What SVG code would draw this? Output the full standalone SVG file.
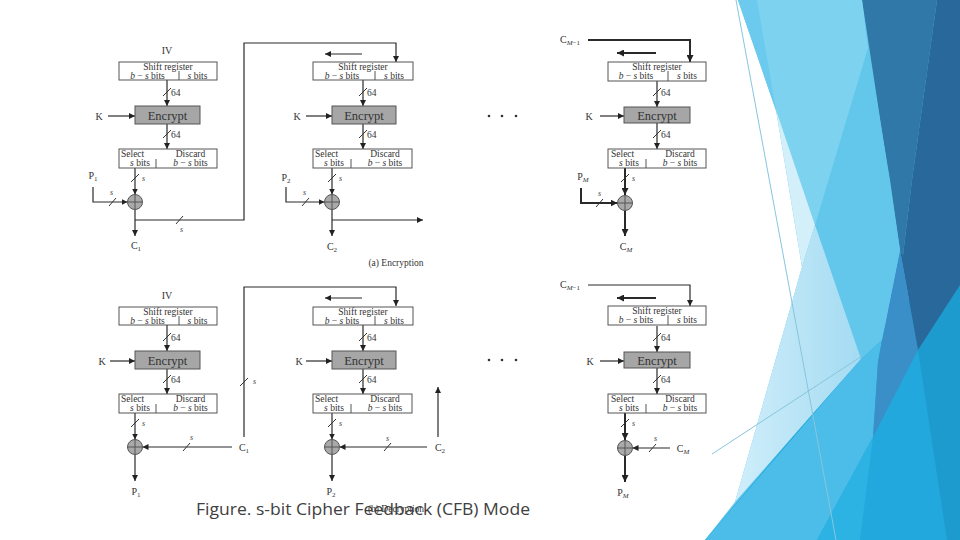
<svg xmlns="http://www.w3.org/2000/svg" width="960" height="540" viewBox="0 0 960 540">
<defs>
<marker id="ah" viewBox="0 0 10 10" refX="10" refY="5" markerWidth="6" markerHeight="6" orient="auto" markerUnits="userSpaceOnUse"><path d="M0,0 L10,5 L0,10 z" fill="#222"/></marker>
<marker id="ahb" viewBox="0 0 10 10" refX="10" refY="5" markerWidth="7" markerHeight="7" orient="auto" markerUnits="userSpaceOnUse"><path d="M0,0 L10,5 L0,10 z" fill="#222"/></marker>
<linearGradient id="midg" x1="0" y1="0" x2="1" y2="0"><stop offset="0" stop-color="#d0eefa"/><stop offset="1" stop-color="#a4dbf2"/></linearGradient>
<style>
.t{font-family:"Liberation Serif",serif;fill:#333;font-size:9.5px}
.tc{text-anchor:middle}
.enc{font-family:"Liberation Serif",serif;fill:#333;font-size:12.5px;text-anchor:middle}
.lab{font-family:"Liberation Serif",serif;fill:#333;font-size:10px;text-anchor:middle}
.sm{font-family:"Liberation Serif",serif;fill:#444;font-size:8px;font-style:italic}
.box{fill:#fff;stroke:#555;stroke-width:1}
.ebox{fill:#a6a6a6;stroke:#555;stroke-width:1}
.xor{fill:#a9a9a9;stroke:#555;stroke-width:1}
.ln{fill:none;stroke:#2a2a2a;stroke-width:1.2}
.lb{fill:none;stroke:#2a2a2a;stroke-width:2}
.ar{marker-end:url(#ah)}
.arb{marker-end:url(#ahb)}
.sl{stroke:#333;stroke-width:1}
.dv{stroke:#555;stroke-width:1}
</style>
</defs>
<rect width="960" height="540" fill="#fff"/>

<!-- decoration -->
<g id="decoration">
<polygon points="738,0 960,0 960,540 705,540 735,502 802,267 776,110" fill="#63c7eb"/>
<polygon points="705,540 887,325 918,290 960,250 960,540" fill="#22a8dc"/>
<polygon points="705,540 861,359 882,340 878,362 873,437 817,540" fill="#4bbde8"/>
<polygon points="873,437 817,540 860,540" fill="#2db3e3"/>
<polygon points="918,350 960,285 960,540 947,540" fill="#1d9ace"/>
<polygon points="900,250 918,350 873,437 878,362 882,340" fill="#3a8fc8"/>
<polygon points="862,0 937,0 912,180 903,255 900,250" fill="#2f78a8"/>
<polygon points="937,0 960,0 960,285 918,350 900,250 903,255 912,180" fill="#29689b"/>
<polygon points="868,48 890,180 900,250 882,340 861,359 815,225" fill="#63c7eb"/>
<polygon points="738,0 862,0 868,48 815,225" fill="#7dd2f0"/>
<polygon points="738,0 757,0 776,110" fill="#6ccaee"/>
<polygon points="776,110 815,225 802,267" fill="#d2effa"/>
<polygon points="815,225 861,359 735,502 802,267" fill="url(#midg)"/>
<line x1="736" y1="0" x2="836" y2="540" stroke="#86c6dd" stroke-width="1"/>
<line x1="712" y1="454" x2="862" y2="356" stroke="#86c6dd" stroke-width="1"/>
</g>

<!-- connectors -->
<g id="connectors">
<line class="ln ar" x1="167" y1="80" x2="167" y2="106"/>
<line class="ln ar" x1="167" y1="124" x2="167" y2="149"/>
<line class="ln ar" x1="108" y1="116" x2="135" y2="116"/>
<line class="ln ar" x1="135" y1="168" x2="135" y2="194.5"/>
<path class="ln ar" d="M93,187 V202 H127.5"/>
<line class="ln ar" x1="135" y1="209.5" x2="135" y2="236"/>
<path class="ln ar" d="M135,220 H244 V43 H396 V62"/>
<line class="ln ar" x1="362" y1="54" x2="325" y2="54"/>
<line class="ln ar" x1="363" y1="80" x2="363" y2="106"/>
<line class="ln ar" x1="363" y1="124" x2="363" y2="149"/>
<line class="ln ar" x1="306" y1="116" x2="332" y2="116"/>
<line class="ln ar" x1="332" y1="168" x2="332" y2="194.5"/>
<path class="ln ar" d="M286,187 V202 H324.5"/>
<line class="ln ar" x1="332" y1="209.5" x2="332" y2="236"/>
<path class="ln ar" d="M332,220 H423"/>
<path class="lb arb" d="M588,40 H690 V62"/>
<line class="lb arb" x1="656" y1="53" x2="617" y2="53"/>
<line class="ln ar" x1="657" y1="81" x2="657" y2="107"/>
<line class="ln ar" x1="657" y1="123" x2="657" y2="149"/>
<line class="ln ar" x1="600" y1="116" x2="624" y2="116"/>
<line class="lb arb" x1="625" y1="168" x2="625" y2="195"/>
<path class="lb arb" d="M581,188 V203 H617.5"/>
<line class="lb arb" x1="625" y1="210.5" x2="625" y2="236"/>

<line class="ln ar" x1="167" y1="325" x2="167" y2="351"/>
<line class="ln ar" x1="167" y1="369" x2="167" y2="394"/>
<line class="ln ar" x1="110" y1="361" x2="135" y2="361"/>
<line class="ln ar" x1="135" y1="413" x2="135" y2="439.5"/>
<path class="ln ar" d="M232,447 H142.5"/>
<line class="ln ar" x1="135" y1="454.5" x2="135" y2="481"/>
<path class="ln ar" d="M244,437 V287 H396 V306"/>
<line class="ln ar" x1="362" y1="298" x2="325" y2="298"/>
<line class="ln ar" x1="363" y1="325" x2="363" y2="351"/>
<line class="ln ar" x1="363" y1="369" x2="363" y2="394"/>
<line class="ln ar" x1="306" y1="361" x2="332" y2="361"/>
<line class="ln ar" x1="332" y1="413" x2="332" y2="439.5"/>
<path class="ln ar" d="M427,447 H339.5"/>
<path class="ln ar" d="M438,437 V387"/>
<line class="ln ar" x1="332" y1="454.5" x2="332" y2="481"/>
<path class="ln ar" d="M588,285 H690 V306"/>
<line class="lb arb" x1="656" y1="298" x2="617" y2="298"/>
<line class="ln ar" x1="657" y1="326" x2="657" y2="352"/>
<line class="ln ar" x1="657" y1="368" x2="657" y2="394"/>
<line class="ln ar" x1="600" y1="361" x2="624" y2="361"/>
<line class="lb arb" x1="625" y1="413" x2="625" y2="440"/>
<path class="ln ar" d="M670,448 H632.5"/>
<line class="lb arb" x1="625" y1="455.5" x2="625" y2="482"/>

<path class="sl" d="M163,96 L171,88 M163,138 L171,130 M131,182 L139,174 M109,206 L116,198 M176,224 L183,216
M359,96 L367,88 M359,138 L367,130 M328,182 L336,174 M302,206 L309,198
M653,96 L661,88 M653,138 L661,130 M621,182 L629,174 M596,207 L603,199
M163,341 L171,333 M163,383 L171,375 M131,427 L139,419 M183,451 L190,443 M240,386 L248,378
M359,341 L367,333 M359,383 L367,375 M328,427 L336,419 M384,451 L391,443
M653,341 L661,333 M653,383 L661,375 M621,427 L629,419 M649,452 L656,444"/>
</g>

<g id="bus-labels">
<text class="t" x="171" y="95.5">64</text><text class="t" x="171" y="137.5">64</text>
<text class="sm" x="142" y="181">s</text><text class="sm" x="110" y="195">s</text><text class="sm" x="180" y="232">s</text>
<text class="t" x="367" y="95.5">64</text><text class="t" x="367" y="137.5">64</text>
<text class="sm" x="339" y="181">s</text><text class="sm" x="303" y="195">s</text>
<text class="t" x="661" y="95.5">64</text><text class="t" x="661" y="137.5">64</text>
<text class="sm" x="632" y="181">s</text><text class="sm" x="598" y="196">s</text>
<text class="t" x="171" y="340.5">64</text><text class="t" x="171" y="382.5">64</text>
<text class="sm" x="142" y="426">s</text><text class="sm" x="190" y="440">s</text><text class="sm" x="253" y="384">s</text>
<text class="t" x="367" y="340.5">64</text><text class="t" x="367" y="382.5">64</text>
<text class="sm" x="339" y="426">s</text><text class="sm" x="386" y="441">s</text>
<text class="t" x="661" y="340.5">64</text><text class="t" x="661" y="382.5">64</text>
<text class="sm" x="632" y="426">s</text><text class="sm" x="654" y="441">s</text>
</g>

<g id="enc-iv"><text class="lab" x="167" y="53.5">IV</text></g>
<g id="enc1-shift"><rect class="box" x="119" y="62" width="98" height="18"/><line class="dv" x1="179" y1="71" x2="179" y2="80"/>
<text class="t tc" x="168" y="70">Shift register</text><text class="t tc" x="147.5" y="78.5"><tspan font-style="italic">b</tspan> − <tspan font-style="italic">s</tspan> bits</text><text class="t tc" x="197.5" y="78.5"><tspan font-style="italic">s</tspan> bits</text></g>
<g id="enc1-encrypt"><rect class="ebox" x="135" y="106" width="65" height="18"/><text class="enc" x="167.5" y="119.5">Encrypt</text></g>
<g id="enc1-k"><text class="lab" x="99" y="119.5">K</text></g>
<g id="enc1-select"><rect class="box" x="119" y="149" width="98" height="19"/><line class="dv" x1="156" y1="159" x2="156" y2="168"/>
<text class="t" x="121" y="157">Select</text><text class="t tc" x="140" y="166"><tspan font-style="italic">s</tspan> bits</text><text class="t tc" x="190.5" y="157">Discard</text><text class="t tc" x="190.5" y="166"><tspan font-style="italic">b</tspan> − <tspan font-style="italic">s</tspan> bits</text></g>
<g id="enc1-xor"><circle class="xor" cx="135" cy="202" r="7.5"/><path class="dv" d="M127.5,202 H142.5 M135,194.5 V209.5"/></g>
<g id="enc1-p"><text class="lab" x="93" y="179">P<tspan font-size="7" dy="2">1</tspan></text></g>
<g id="enc1-c"><text class="lab" x="136" y="249">C<tspan font-size="7" dy="2">1</tspan></text></g>

<g id="enc2-shift"><rect class="box" x="313" y="62" width="100" height="18"/><line class="dv" x1="375" y1="71" x2="375" y2="80"/>
<text class="t tc" x="363" y="70">Shift register</text><text class="t tc" x="342" y="78.5"><tspan font-style="italic">b</tspan> − <tspan font-style="italic">s</tspan> bits</text><text class="t tc" x="394" y="78.5"><tspan font-style="italic">s</tspan> bits</text></g>
<g id="enc2-encrypt"><rect class="ebox" x="332" y="106" width="64" height="18"/><text class="enc" x="364" y="119.5">Encrypt</text></g>
<g id="enc2-k"><text class="lab" x="297" y="119.5">K</text></g>
<g id="enc2-select"><rect class="box" x="313" y="149" width="99" height="19"/><line class="dv" x1="351" y1="159" x2="351" y2="168"/>
<text class="t" x="315" y="157">Select</text><text class="t tc" x="334" y="166"><tspan font-style="italic">s</tspan> bits</text><text class="t tc" x="385" y="157">Discard</text><text class="t tc" x="385" y="166"><tspan font-style="italic">b</tspan> − <tspan font-style="italic">s</tspan> bits</text></g>
<g id="enc2-xor"><circle class="xor" cx="332" cy="202" r="7.5"/><path class="dv" d="M324.5,202 H339.5 M332,194.5 V209.5"/></g>
<g id="enc2-p"><text class="lab" x="286" y="181">P<tspan font-size="7" dy="2">2</tspan></text></g>
<g id="enc2-c"><text class="lab" x="332" y="250">C<tspan font-size="7" dy="2">2</tspan></text></g>
<g id="enc-caption"><text class="t tc" x="396" y="266" font-size="9">(a) Encryption</text></g>

<g id="enc-dots"><circle cx="489" cy="116" r="1.3" fill="#333"/><circle cx="502" cy="116" r="1.3" fill="#333"/><circle cx="516" cy="116" r="1.3" fill="#333"/></g>

<g id="enc3-cin"><text class="lab" x="570" y="43">C<tspan font-size="7" dy="2"><tspan font-style="italic">M</tspan>−1</tspan></text></g>
<g id="enc3-shift"><rect class="box" x="608" y="62" width="98" height="19"/><line class="dv" x1="668" y1="71" x2="668" y2="81"/>
<text class="t tc" x="657" y="70">Shift register</text><text class="t tc" x="636" y="78.5"><tspan font-style="italic">b</tspan> − <tspan font-style="italic">s</tspan> bits</text><text class="t tc" x="687" y="78.5"><tspan font-style="italic">s</tspan> bits</text></g>
<g id="enc3-encrypt"><rect class="ebox" x="624" y="107" width="66" height="16"/><text class="enc" x="657" y="119.5">Encrypt</text></g>
<g id="enc3-k"><text class="lab" x="589" y="119.5">K</text></g>
<g id="enc3-select"><rect class="box" x="608" y="149" width="98" height="19"/><line class="dv" x1="646" y1="159" x2="646" y2="168"/>
<text class="t" x="611" y="157">Select</text><text class="t tc" x="629" y="166"><tspan font-style="italic">s</tspan> bits</text><text class="t tc" x="680" y="157">Discard</text><text class="t tc" x="680" y="166"><tspan font-style="italic">b</tspan> − <tspan font-style="italic">s</tspan> bits</text></g>
<g id="enc3-xor"><circle class="xor" cx="625" cy="203" r="7.5"/><path class="dv" d="M617.5,203 H632.5 M625,195.5 V210.5"/></g>
<g id="enc3-p"><text class="lab" x="583" y="180">P<tspan font-size="7" dy="2" font-style="italic">M</tspan></text></g>
<g id="enc3-c"><text class="lab" x="626" y="250">C<tspan font-size="7" dy="2" font-style="italic">M</tspan></text></g>

<g id="dec-iv"><text class="lab" x="167" y="298.5">IV</text></g>
<g id="dec1-shift"><rect class="box" x="119" y="307" width="98" height="18"/><line class="dv" x1="179" y1="316" x2="179" y2="325"/>
<text class="t tc" x="168" y="315">Shift register</text><text class="t tc" x="147.5" y="323.5"><tspan font-style="italic">b</tspan> − <tspan font-style="italic">s</tspan> bits</text><text class="t tc" x="197.5" y="323.5"><tspan font-style="italic">s</tspan> bits</text></g>
<g id="dec1-encrypt"><rect class="ebox" x="135" y="351" width="65" height="18"/><text class="enc" x="167.5" y="364.5">Encrypt</text></g>
<g id="dec1-k"><text class="lab" x="102" y="364.5">K</text></g>
<g id="dec1-select"><rect class="box" x="119" y="394" width="98" height="19"/><line class="dv" x1="156" y1="404" x2="156" y2="413"/>
<text class="t" x="121" y="402">Select</text><text class="t tc" x="140" y="411"><tspan font-style="italic">s</tspan> bits</text><text class="t tc" x="190.5" y="402">Discard</text><text class="t tc" x="190.5" y="411"><tspan font-style="italic">b</tspan> − <tspan font-style="italic">s</tspan> bits</text></g>
<g id="dec1-xor"><circle class="xor" cx="135" cy="447" r="7.5"/><path class="dv" d="M127.5,447 H142.5 M135,439.5 V454.5"/></g>
<g id="dec1-c"><text class="lab" x="244" y="451">C<tspan font-size="7" dy="2">1</tspan></text></g>
<g id="dec1-p"><text class="lab" x="136" y="495">P<tspan font-size="7" dy="2">1</tspan></text></g>

<g id="dec2-shift"><rect class="box" x="313" y="307" width="100" height="18"/><line class="dv" x1="375" y1="316" x2="375" y2="325"/>
<text class="t tc" x="363" y="315">Shift register</text><text class="t tc" x="342" y="323.5"><tspan font-style="italic">b</tspan> − <tspan font-style="italic">s</tspan> bits</text><text class="t tc" x="394" y="323.5"><tspan font-style="italic">s</tspan> bits</text></g>
<g id="dec2-encrypt"><rect class="ebox" x="332" y="351" width="64" height="18"/><text class="enc" x="364" y="364.5">Encrypt</text></g>
<g id="dec2-k"><text class="lab" x="299" y="364.5">K</text></g>
<g id="dec2-select"><rect class="box" x="313" y="394" width="99" height="19"/><line class="dv" x1="351" y1="404" x2="351" y2="413"/>
<text class="t" x="315" y="402">Select</text><text class="t tc" x="334" y="411"><tspan font-style="italic">s</tspan> bits</text><text class="t tc" x="385" y="402">Discard</text><text class="t tc" x="385" y="411"><tspan font-style="italic">b</tspan> − <tspan font-style="italic">s</tspan> bits</text></g>
<g id="dec2-xor"><circle class="xor" cx="332" cy="447" r="7.5"/><path class="dv" d="M324.5,447 H339.5 M332,439.5 V454.5"/></g>
<g id="dec2-c"><text class="lab" x="440" y="451">C<tspan font-size="7" dy="2">2</tspan></text></g>
<g id="dec2-p"><text class="lab" x="331" y="495">P<tspan font-size="7" dy="2">2</tspan></text></g>

<g id="dec-dots"><circle cx="489" cy="360" r="1.3" fill="#333"/><circle cx="502" cy="360" r="1.3" fill="#333"/><circle cx="516" cy="360" r="1.3" fill="#333"/></g>

<g id="dec3-cin"><text class="lab" x="570" y="288">C<tspan font-size="7" dy="2"><tspan font-style="italic">M</tspan>−1</tspan></text></g>
<g id="dec3-shift"><rect class="box" x="608" y="306" width="98" height="19"/><line class="dv" x1="668" y1="315" x2="668" y2="325"/>
<text class="t tc" x="657" y="314">Shift register</text><text class="t tc" x="636" y="322.5"><tspan font-style="italic">b</tspan> − <tspan font-style="italic">s</tspan> bits</text><text class="t tc" x="687" y="322.5"><tspan font-style="italic">s</tspan> bits</text></g>
<g id="dec3-encrypt"><rect class="ebox" x="624" y="352" width="66" height="16"/><text class="enc" x="657" y="364.5">Encrypt</text></g>
<g id="dec3-k"><text class="lab" x="590" y="364.5">K</text></g>
<g id="dec3-select"><rect class="box" x="608" y="394" width="98" height="19"/><line class="dv" x1="646" y1="404" x2="646" y2="413"/>
<text class="t" x="611" y="402">Select</text><text class="t tc" x="629" y="411"><tspan font-style="italic">s</tspan> bits</text><text class="t tc" x="680" y="402">Discard</text><text class="t tc" x="680" y="411"><tspan font-style="italic">b</tspan> − <tspan font-style="italic">s</tspan> bits</text></g>
<g id="dec3-xor"><circle class="xor" cx="625" cy="448" r="7.5"/><path class="dv" d="M617.5,448 H632.5 M625,440.5 V455.5"/></g>
<g id="dec3-c"><text class="lab" x="683" y="452">C<tspan font-size="7" dy="2" font-style="italic">M</tspan></text></g>
<g id="dec3-p"><text class="lab" x="623" y="496">P<tspan font-size="7" dy="2" font-style="italic">M</tspan></text></g>

<g id="dec-caption"><text class="t tc" x="396" y="512" font-size="9" fill="#999">(b) Decryption</text></g>
<g id="figure-caption"><text x="196" y="515" font-family="'Open Sans','Noto Sans',sans-serif" font-size="16" fill="#404040" textLength="334" lengthAdjust="spacingAndGlyphs">Figure. s-bit Cipher Feedback (CFB) Mode</text></g>
</svg>
